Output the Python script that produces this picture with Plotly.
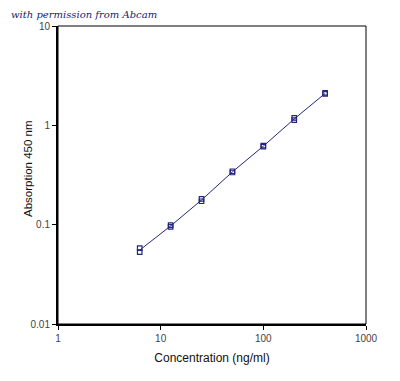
import plotly.graph_objects as go

conc = [6.25, 12.5, 25, 50, 100, 200, 400]
rep1 = [0.053, 0.095, 0.172, 0.335, 0.610, 1.13, 2.07]
rep2 = [0.058, 0.099, 0.182, 0.345, 0.625, 1.19, 2.12]
mean_abs = [(a + b) / 2 for a, b in zip(rep1, rep2)]

x_ticks = [1, 10, 100, 1000]
x_ticktext = ["1", "10", "100", "1000"]
y_ticks = [0.01, 0.1, 1, 10]
y_ticktext = ["0.01", "0.1", "1", "10"]

navy = "#25257f"

fig = go.Figure()
fig.add_trace(go.Scatter(x=conc, y=mean_abs, mode="lines",
                         line=dict(color=navy, width=1), showlegend=False, hoverinfo="skip"))
fig.add_trace(go.Scatter(x=conc, y=rep1, mode="markers",
                         marker=dict(symbol="square-open", size=4.5, color=navy, line=dict(width=1.2)),
                         showlegend=False))
fig.add_trace(go.Scatter(x=conc, y=rep2, mode="markers",
                         marker=dict(symbol="square-open", size=4.5, color=navy, line=dict(width=1.2)),
                         showlegend=False))

fig.update_layout(
    width=392, height=373,
    margin=dict(l=50, r=34, t=18, b=57, autoexpand=False),
    paper_bgcolor="white", plot_bgcolor="white",
    font=dict(family="Arial, Liberation Sans, sans-serif", size=10, color="#222"),
    xaxis=dict(type="log", range=[0, 3], tickvals=x_ticks, ticktext=x_ticktext,
               showgrid=False, zeroline=False, showline=True, linecolor="black", linewidth=2,
               ticks="outside", ticklen=4, tickcolor="black", tickfont=dict(size=10, color="#444"),
               automargin=False,
               title=dict(text="Concentration (ng/ml)", font=dict(size=12, color="#111"), standoff=11)),
    yaxis=dict(type="log", range=[-2, 1], tickvals=y_ticks, ticktext=y_ticktext,
               showgrid=False, zeroline=False, showline=True, linecolor="black", linewidth=2,
               ticks="outside", ticklen=4, tickcolor="black", tickfont=dict(size=10, color="#444"),
               automargin=False),
    shapes=[dict(type="rect", xref="paper", yref="paper", x0=0, y0=0, x1=1, y1=1,
                 line=dict(color="black", width=1), layer="above")],
    annotations=[
        dict(text="<i>with permission from Abcam</i>", xref="paper", yref="paper",
             x=-48/308, y=1 + 5/298, xanchor="left", yanchor="bottom", showarrow=False,
             borderpad=0,
             font=dict(family="DejaVu Serif, serif", size=10, color="#1a1a6e")),
        dict(text="Absorption 450 nm", xref="paper", yref="paper",
             x=-30/308, y=(324 - 169) / 298, xanchor="center", yanchor="middle",
             textangle=-90, showarrow=False,
             font=dict(size=11.5, color="#111")),
    ],
)

fig.write_html("out.html")
